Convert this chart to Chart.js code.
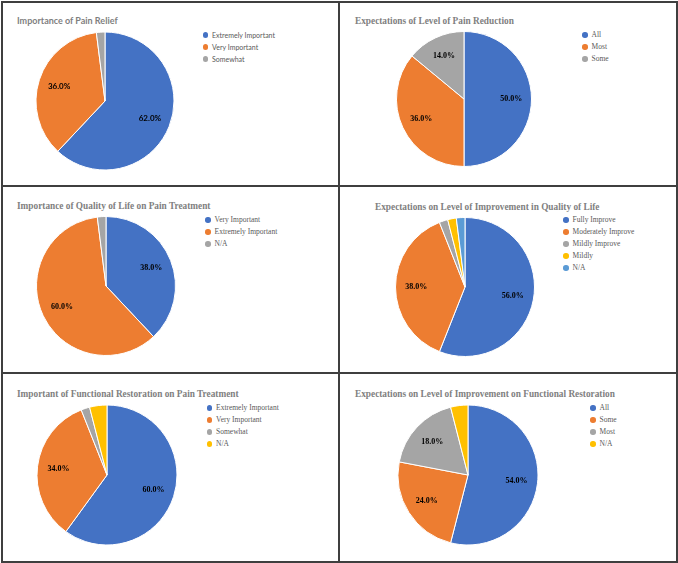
<!DOCTYPE html>
<html>
<head>
<meta charset="utf-8">
<script src="https://cdn.jsdelivr.net/npm/chart.js@4.4.0/dist/chart.umd.min.js"></script>
<style>
  html, body { margin: 0; padding: 0; background: #fff; }
  #page { position: relative; width: 678px; height: 563px; overflow: hidden; }
  .frame { position: absolute; left: 1px; top: 1px; width: 677px; height: 562px; box-sizing: border-box; border: 2px solid #3f3f3f; }
  .vline { position: absolute; left: 338px; top: 1px; width: 2px; height: 562px; background: #3f3f3f; }
  .hline { position: absolute; left: 1px; width: 677px; height: 2px; background: #3f3f3f; }
  .title { position: absolute; white-space: nowrap; font-weight: bold; color: #7f7f7f; font-size: 9px; line-height: 12px; }
  .serif.title { font-size: 9.3px; }
  .legend { position: absolute; margin: 0; padding: 0; list-style: none; color: #595959; }
  .legend li { display: flex; align-items: center; height: 12px; line-height: 12px; white-space: nowrap; }
  .legend .dot { width: 5.5px; height: 5.5px; border-radius: 50%; margin-right: 3.8px; flex: none; }
  canvas { position: absolute; }
  .sans { font-family: Lato, "Open Sans", sans-serif; }
  .sans.legend { font-size: 7px; }
  .serif { font-family: "Liberation Serif", "DejaVu Serif", serif; }
  .serif.legend { font-size: 7.5px; }
</style>
</head>
<body>
<div id="page">
  <div class="frame"></div>
  <div class="vline"></div>
  <div class="hline" style="top:185px"></div>
  <div class="hline" style="top:372px"></div>
</div>
<script>
const reliefLabels = ["Extremely Important", "Very Important", "Somewhat"];
const reliefValues = [62, 36, 2];

const reductionLabels = ["All", "Most", "Some"];
const reductionValues = [50, 36, 14];

const qualityLabels = ["Very Important", "Extremely Important", "N/A"];
const qualityValues = [38, 60, 2];

const qualityGainLabels = ["Fully Improve", "Moderately Improve", "Mildly Improve", "Mildly", "N/A"];
const qualityGainValues = [56, 38, 2, 2, 2];

const functionLabels = ["Extremely Important", "Very Important", "Somewhat", "N/A"];
const functionValues = [60, 34, 2, 4];

const functionGainLabels = ["All", "Some", "Most", "N/A"];
const functionGainValues = [54, 24, 18, 4];

const palette = ["#4472C4", "#ED7D31", "#A5A5A5", "#FFC000", "#5B9BD5"];

// where each panel sits on the page
const panels = [
  { title: "Importance of Pain Relief", labels: reliefLabels, values: reliefValues,
    face: "sans", titleAt: [17, 21], pie: [105, 101, 69], legendAt: [205.5, 35] },
  { title: "Expectations of Level of Pain Reduction", labels: reductionLabels, values: reductionValues,
    face: "serif", titleAt: [355, 21], pie: [464, 99, 67.5], legendAt: [585, 35] },
  { title: "Importance of Quality of Life on Pain Treatment", labels: qualityLabels, values: qualityValues,
    face: "serif", titleAt: [17, 206], pie: [106, 286, 69.5], legendAt: [208, 220] },
  { title: "Expectations on Level of Improvement in Quality of Life", labels: qualityGainLabels, values: qualityGainValues,
    face: "serif", titleAt: [375, 207], pie: [465, 287, 69.5], legendAt: [566, 220] },
  { title: "Important of Functional Restoration on Pain Treatment", labels: functionLabels, values: functionValues,
    face: "serif", titleAt: [17, 394], pie: [107, 475, 70], legendAt: [209.5, 408] },
  { title: "Expectations on Level of Improvement on Functional Restoration", labels: functionGainLabels, values: functionGainValues,
    face: "serif", titleAt: [355, 394], pie: [468, 475, 70], legendAt: [593, 408] },
];

// percent text inside the bigger slices
const sliceLabels = {
  id: "sliceLabels",
  afterDatasetsDraw(chart, args, opts) {
    const ctx = chart.ctx;
    const values = chart.data.datasets[0].data;
    ctx.save();
    ctx.font = opts.font;
    ctx.fillStyle = opts.color;
    ctx.textAlign = "center";
    ctx.textBaseline = "middle";
    chart.getDatasetMeta(0).data.forEach((arc, i) => {
      if (values[i] < opts.min) return;
      const p = arc.getProps(["x", "y", "startAngle", "endAngle", "outerRadius"], true);
      const mid = (p.startAngle + p.endAngle) / 2;
      const d = p.outerRadius * opts.at;
      ctx.fillText(values[i].toFixed(1) + "%", p.x + Math.cos(mid) * d, p.y + Math.sin(mid) * d);
    });
    ctx.restore();
  }
};

const page = document.getElementById("page");
const SIZE = 150;

panels.forEach(p => {
  const title = document.createElement("div");
  title.className = "title " + p.face;
  title.textContent = p.title;
  title.style.left = p.titleAt[0] + "px";
  title.style.top = (p.titleAt[1] - 6) + "px";
  page.appendChild(title);

  const canvas = document.createElement("canvas");
  canvas.width = SIZE;
  canvas.height = SIZE;
  canvas.style.left = (p.pie[0] - SIZE / 2) + "px";
  canvas.style.top = (p.pie[1] - SIZE / 2) + "px";
  page.appendChild(canvas);

  const chart = new Chart(canvas.getContext("2d"), {
    type: "pie",
    data: {
      labels: p.labels,
      datasets: [{
        data: p.values,
        backgroundColor: palette.slice(0, p.values.length),
        borderColor: "#ffffff",
        borderWidth: 1,
        hoverOffset: 0,
        radius: p.pie[2],
      }],
    },
    options: {
      responsive: false,
      animation: false,
      events: [],
      plugins: {
        legend: { display: false },
        tooltip: { enabled: false },
        sliceLabels: {
          min: 10,
          at: 0.7,
          color: "#000000",
          font: p.face === "sans" ? "bold 8px Lato, sans-serif" : "bold 8px 'Liberation Serif', serif",
        },
      },
    },
    plugins: [sliceLabels],
  });

  const list = document.createElement("ul");
  list.className = "legend " + p.face;
  list.style.left = (p.legendAt[0] - 2.75) + "px";
  list.style.top = (p.legendAt[1] - 6) + "px";
  chart.options.plugins.legend.labels.generateLabels(chart).forEach(item => {
    const li = document.createElement("li");
    const dot = document.createElement("span");
    dot.className = "dot";
    dot.style.background = item.fillStyle;
    li.appendChild(dot);
    li.appendChild(document.createTextNode(item.text));
    list.appendChild(li);
  });
  page.appendChild(list);
});
</script>
</body>
</html>
